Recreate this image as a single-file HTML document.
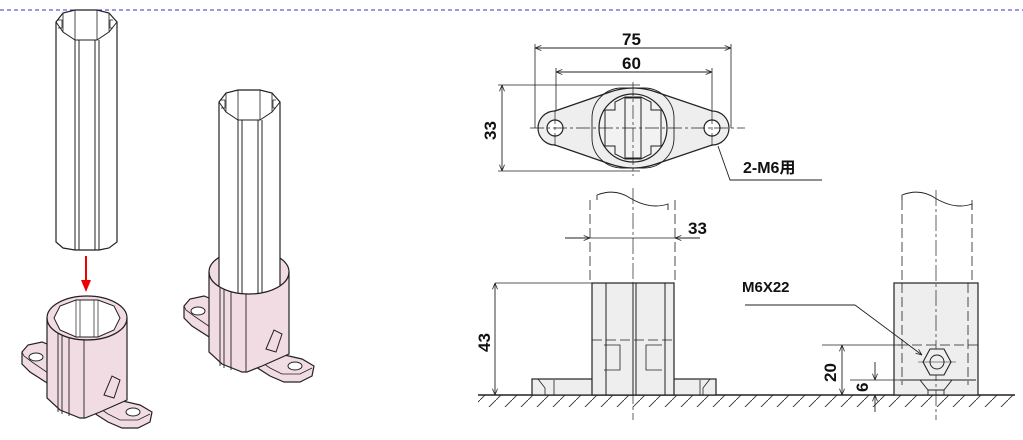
<!DOCTYPE html>
<html><head><meta charset="utf-8"><style>
html,body{margin:0;padding:0;background:#fff;}
svg{display:block;}
text{font-family:"Liberation Sans","Noto Sans CJK JP",sans-serif;font-weight:bold;fill:#111;}
</style></head><body>
<svg width="1023" height="440" viewBox="0 0 1023 440" xmlns="http://www.w3.org/2000/svg">
<defs>
<marker id="ar" viewBox="0 0 10 10" refX="10" refY="5" markerWidth="7" markerHeight="7" orient="auto-start-reverse"><path d="M0,1 L10,5 L0,9" fill="none" stroke="#222" stroke-width="1.2"/></marker>
<pattern id="hat" width="16" height="16" patternUnits="userSpaceOnUse"><path d="M0,16 L16,0" stroke="#333" stroke-width="0.9"/></pattern>
<g id="tube">
 <path d="M1,12 L8,3 L20,0 L42,0 L54,3 L62,12 L62,232 L54,238 L44,240 L20,240 L8,238 L1,232 Z" fill="#fff" stroke="#222" stroke-width="1.2"/>
 <path d="M1,12 L8,22 L20,30 L42,30 L54,22 L62,12" fill="none" stroke="#222" stroke-width="1"/>
 <path d="M8,3 L8,22 M54,3 L54,22 M20,0 L20,30 M42,0 L42,30" stroke="#222" stroke-width="0.8" fill="none"/>
 <path d="M20,30 L20,240 M24,30 L24,240 M40,30 L40,240 M44,30 L44,240" stroke="#222" stroke-width="1"/>
 <path d="M3,10 L7,10 L7,18 L3,18 M58,10 L55,10 L55,18 L58,18" stroke="#222" stroke-width="0.8" fill="none"/>
</g>
<g id="flange">
 <path d="M22,352 L28,345 L42,342 L52,346 L52,392 L118,400 L140,405 L152,412 L150,422 L138,428 L122,428 L108,422 L30,372 L22,364 Z" fill="#f2dce4" stroke="#222" stroke-width="1.2"/>
 <path d="M22,352 L24,356 L32,362 L108,414 L120,420 L138,420 L150,414" fill="none" stroke="#222" stroke-width="0.8"/>
 <ellipse cx="36" cy="357" rx="7" ry="4" fill="#fff" stroke="#222" stroke-width="1"/>
 <ellipse cx="133" cy="412" rx="7" ry="4" fill="#fff" stroke="#222" stroke-width="1"/>
</g>
<g id="cupfront">
 <path d="M47,318 A40,22 0 0 0 127,318 L127,400 L100,412 L85,418 L80,418 L60,410 L47,398 Z" fill="#f2dce4" stroke="#222" stroke-width="1.2"/>
 <path d="M58,333 L58,412 M62,335 L62,414 M69,338 L69,416 M84,340 L84,418" stroke="#222" stroke-width="0.9"/>
 <path d="M104,395 L112,376 L120,380 L114,398 Z" fill="#f2dce4" stroke="#222" stroke-width="1"/>
</g>
</defs>

<line x1="0" y1="10" x2="1023" y2="10" stroke="#3030e0" stroke-width="1" stroke-dasharray="4,3"/>

<!-- left iso -->
<use href="#tube" transform="translate(55,10)"/>
<line x1="86" y1="256" x2="86" y2="282" stroke="#e00" stroke-width="2"/>
<path d="M81,280 L86,292 L91,280 Z" fill="#e00"/>
<use href="#flange"/>
<ellipse cx="87" cy="318" rx="40" ry="22" fill="#f2dce4" stroke="#222" stroke-width="1.2"/>
<use href="#cupfront"/>
<path d="M54,318 L60,306 L76,300 L98,300 L114,306 L120,318 L114,330 L98,337 L76,337 L60,330 Z" fill="#fff" stroke="#222" stroke-width="1"/>
<path d="M76,300 L76,337 M98,300 L98,337 M80,300 L80,337 M94,300 L94,337" stroke="#222" stroke-width="0.7"/>

<!-- right iso -->
<g transform="translate(162,-46)">
 <use href="#flange"/>
 <ellipse cx="87" cy="318" rx="40" ry="22" fill="#f2dce4" stroke="#222" stroke-width="1.2"/>
</g>
<use href="#tube" transform="translate(218,90)"/>
<use href="#cupfront" transform="translate(162,-46)"/>

<!-- top view -->
<g stroke="#222" fill="none">
<path d="M555,111 L610,92 Q633,84 656,92 L712,111 A17,17 0 0 1 712,145 L656,164 Q633,172 610,164 L555,145 A17,17 0 0 1 555,111 Z" fill="#eee" stroke-width="1.2"/>
<circle cx="555" cy="128" r="8" fill="#fff" stroke-width="1.2"/>
<circle cx="712" cy="128" r="8" fill="#fff" stroke-width="1.2"/>
<rect x="592" y="88" width="82" height="80" rx="30" stroke-width="0.9"/>
<circle cx="633" cy="128" r="34" fill="#f2f2f2" stroke-width="1.2"/>
<path d="M605,110 L615,110 L615,102 L625,97 L641,97 L651,102 L651,110 L661,110 L661,146 L651,146 L651,154 L641,159 L625,159 L615,154 L615,146 L605,146 Z" stroke-width="1"/>
<rect x="625" y="98" width="16" height="60" stroke-width="1"/>
<path d="M530,128 L745,128 M633,82 L633,176 M555,110 L555,146 M712,110 L712,146" stroke-width="0.7" stroke-dasharray="14,3,3,3"/>
<path d="M535,44 L535,128 M731,44 L731,128 M556,68 L556,110 M712,68 L712,110 M498,85 L640,85 M498,171 L640,171" stroke-width="0.8"/>
<line x1="535" y1="48" x2="731" y2="48" stroke-width="0.9" marker-start="url(#ar)" marker-end="url(#ar)"/>
<line x1="556" y1="72" x2="712" y2="72" stroke-width="0.9" marker-start="url(#ar)" marker-end="url(#ar)"/>
<line x1="502" y1="85" x2="502" y2="171" stroke-width="0.9" marker-start="url(#ar)" marker-end="url(#ar)"/>
<path d="M718,146 L730,180 L822,180" stroke-width="0.9"/>
</g>
<text x="622" y="45" font-size="17">75</text>
<text x="622" y="69" font-size="17">60</text>
<text transform="translate(496,140) rotate(-90)" font-size="17">33</text>
<text x="743" y="173" font-size="16">2-M6用</text>

<!-- ground -->
<rect x="478" y="395" width="537" height="18" fill="url(#hat)"/>
<rect x="478" y="407" width="537" height="10" fill="#fff"/>
<line x1="478" y1="395" x2="1015" y2="395" stroke="#222" stroke-width="1.4"/>

<!-- front view left -->
<g stroke="#222" fill="none">
<rect x="532" y="379" width="184" height="16" fill="#eee" stroke-width="1.2"/>
<rect x="592" y="283" width="82" height="112" fill="#eee" stroke-width="1.2"/>
<path d="M633,283 L633,395 M636,283 L636,395 M606,283 L606,395 M665,283 L665,395" stroke-width="1"/>
<path d="M538,379 L545,388 L545,395 M710,379 L703,388 L703,395 M554,380 L554,395 M700,380 L700,395" stroke-width="0.8"/>
<path d="M604,345 L620,345 L620,370 L604,370 M662,345 L646,345 L646,370 L662,370" stroke-width="0.8"/>
<path d="M590,200 L590,283 M675,200 L675,283 M592,340 L674,340" stroke-width="0.8" stroke-dasharray="10,4"/>
<path d="M633,188 L633,420" stroke-width="0.7" stroke-dasharray="16,3,3,3"/>
<path d="M597,200 L597,195 Q615,188 630,198 Q650,210 668,204 L668,210" stroke-width="0.9"/>
<path d="M580,238 L700,238 M495,283 L592,283" stroke-width="0.8"/>
<line x1="565" y1="238" x2="590" y2="238" stroke-width="0.9" marker-end="url(#ar)"/>
<line x1="700" y1="238" x2="675" y2="238" stroke-width="0.9" marker-end="url(#ar)"/>
<line x1="495" y1="283" x2="495" y2="395" stroke-width="0.9" marker-start="url(#ar)" marker-end="url(#ar)"/>
</g>
<text x="688" y="234" font-size="17">33</text>
<text transform="translate(490,352) rotate(-90)" font-size="17">43</text>

<!-- front view right -->
<g stroke="#222" fill="none">
<rect x="894" y="283" width="84" height="112" fill="#eee" stroke-width="1.2"/>
<path d="M902,200 L902,283 M972,200 L972,283 M902,283 L902,385 M968,283 L968,385 M898,345 L978,345" stroke-width="0.8" stroke-dasharray="10,4"/>
<path d="M936,190 L936,420" stroke-width="0.7" stroke-dasharray="16,3,3,3"/>
<path d="M902,200 L902,195 Q920,188 935,198 Q955,210 972,204 L972,210" stroke-width="0.9"/>
<path d="M900,380 L976,380 M920,380 L928,390 L944,390 L952,380 M928,390 L928,395 M944,390 L944,395" stroke-width="0.9"/>
<polygon points="930,349 944,349 951,362 944,375 930,375 923,362" fill="#eee" stroke-width="1.1"/>
<circle cx="937" cy="362" r="7" stroke-width="1"/>
<path d="M918,362 L956,362" stroke-width="0.6"/>
<path d="M822,345 L900,345 M850,380 L900,380" stroke-width="0.8"/>
<line x1="842" y1="345" x2="842" y2="395" stroke-width="0.9" marker-start="url(#ar)" marker-end="url(#ar)"/>
<line x1="875" y1="362" x2="875" y2="380" stroke-width="0.9" marker-end="url(#ar)"/>
<line x1="875" y1="412" x2="875" y2="395" stroke-width="0.9" marker-end="url(#ar)"/>
<path d="M745,305 L855,305" stroke-width="0.9"/>
<line x1="855" y1="305" x2="922" y2="355" stroke-width="0.9" marker-end="url(#ar)"/>
</g>
<text x="742" y="292" font-size="15">M6X22</text>
<text transform="translate(836,382) rotate(-90)" font-size="17">20</text>
<text transform="translate(868,392) rotate(-90)" font-size="17">6</text>
</svg>
</body></html>
